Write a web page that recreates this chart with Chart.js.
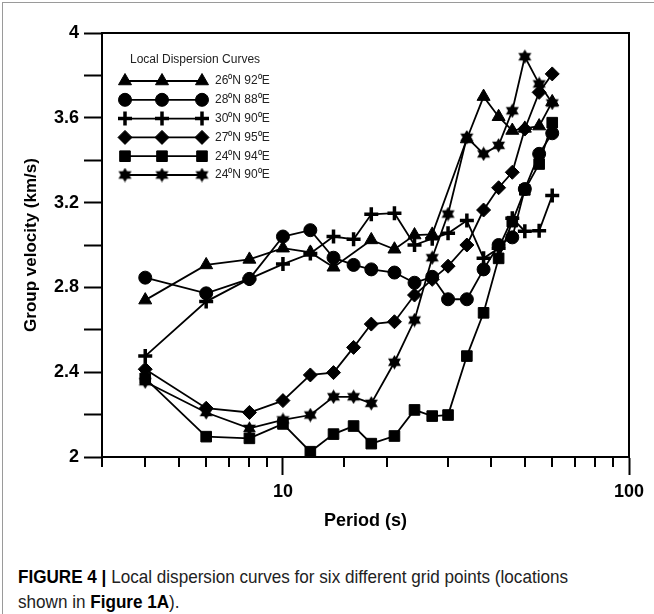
<!DOCTYPE html>
<html>
<head>
<meta charset="utf-8">
<script src="https://cdn.jsdelivr.net/npm/chart.js@4.4.0/dist/chart.umd.min.js"></script>
<style>
  html, body { margin: 0; padding: 0; background: #fff; }
  #wrap { position: relative; width: 654px; height: 614px; overflow: hidden; }
  #frame { position: absolute; left: 2px; top: 2px; width: 660px; height: 620px;
           border-left: 1px solid #9a9a9a; border-top: 1px solid #9a9a9a; }
  #chart { position: absolute; left: 0; top: 0; }
  #caption { position: absolute; left: 18px; top: 564px; font-family: "Liberation Sans Narrow", "Arial Narrow", "Liberation Sans", Arial, sans-serif;
             font-size: 19px; line-height: 25px; color: #222; white-space: nowrap;
             transform: scaleX(0.9); transform-origin: 0 0; }
  #caption b { color: #000; }
</style>
</head>
<body>
<div id="wrap">
  <div id="frame"></div>
  <canvas id="chart" width="654" height="545"></canvas>
  <div id="caption"><b>FIGURE 4 |</b> Local dispersion curves for six different grid points (locations<br>shown in <b>Figure 1A</b>).</div>
</div>
<script>
// periods (s) shared by all curves
const periods = [4, 6, 8, 10, 12, 14, 16, 18, 21, 24, 27, 30, 34, 38, 42, 46, 50, 55, 60];

// group velocity (km/s), null = no marker at that period
const v26N92E = [2.74, 2.906, 2.932, 2.985, 2.965, 2.895, null, 3.024, 2.98, 3.047, 3.05, null, 3.50, 3.70, 3.605, 3.54, 3.55, 3.561, 3.675];
const v28N88E = [2.846, 2.772, 2.84, 3.04, 3.07, 2.94, 2.906, 2.885, 2.87, 2.822, 2.85, 2.744, 2.744, 2.885, 3.0, 3.036, 3.264, 3.43, 3.527];
const v30N90E = [2.476, 2.733, 2.84, 2.91, 2.96, 3.04, 3.027, 3.145, 3.15, 3.0, 3.03, 3.055, 3.115, 2.937, 2.985, 3.126, 3.065, 3.067, 3.233];
const v27N95E = [2.414, 2.23, 2.21, 2.266, 2.387, 2.398, 2.517, 2.627, 2.638, 2.764, 2.838, 2.90, 3.0, 3.165, 3.27, 3.343, 3.547, 3.72, 3.807];
const v24N94E = [2.371, 2.096, 2.088, 2.156, 2.025, 2.108, 2.146, 2.063, 2.099, 2.222, 2.193, 2.198, 2.476, 2.68, 2.937, 3.11, 3.26, 3.382, 3.577];
const v24N90E = [2.355, 2.21, 2.135, 2.175, 2.198, 2.284, 2.284, 2.253, 2.447, 2.646, 2.94, 3.146, 3.508, 3.43, 3.47, 3.633, 3.888, 3.76, 3.67];

const seriesNames = ['26\u2070N 92\u2070E', '28\u2070N 88\u2070E', '30\u2070N 90\u2070E', '27\u2070N 95\u2070E', '24\u2070N 94\u2070E', '24\u2070N 90\u2070E'];
const yLabels = ['2', '2.4', '2.8', '3.2', '3.6', '4'];

// filled six point star, the library's own 'star' is only lines
function makeStar(size) {
    const c = document.createElement('canvas');
    c.width = size; c.height = size;
    const g = c.getContext('2d');
    const r = size / 2, cx = size / 2, cy = size / 2;
    g.fillStyle = '#000';
    for (let k = 0; k < 2; k++) {
        g.beginPath();
        for (let i = 0; i < 3; i++) {
            const a = -Math.PI / 2 + k * Math.PI + i * 2 * Math.PI / 3;
            const px = cx + r * Math.cos(a), py = cy + r * Math.sin(a) * 0.98;
            if (i === 0) g.moveTo(px, py); else g.lineTo(px, py);
        }
        g.closePath();
        g.fill();
    }
    return c;
}
const starImg = makeStar(15);

const styles = [
    { pointStyle: 'triangle', radius: 7.5, borderWidth: 1 },
    { pointStyle: 'circle', radius: 6.5, borderWidth: 1 },
    { pointStyle: 'cross', radius: 7, borderWidth: 3.5 },
    { pointStyle: 'rectRot', radius: 7, borderWidth: 1 },
    { pointStyle: 'rect', radius: 7.5, borderWidth: 1 },
    { pointStyle: starImg, radius: 7.5, borderWidth: 1 }
];
const allValues = [v26N92E, v28N88E, v30N90E, v27N95E, v24N94E, v24N90E];

function toPoints(vals) {
    const pts = [];
    periods.forEach((p, i) => { if (vals[i] !== null) pts.push({ x: p, y: vals[i] }); });
    return pts;
}

const datasets = allValues.map((vals, i) => ({
    label: seriesNames[i],
    data: toPoints(vals),
    borderColor: '#000',
    backgroundColor: '#000',
    borderWidth: 1.8,
    pointStyle: styles[i].pointStyle,
    pointRadius: styles[i].radius,
    pointBorderWidth: styles[i].borderWidth,
    pointBackgroundColor: '#000',
    pointBorderColor: '#000',
    tension: 0
}));

const isMajor = v => v === 10 || v === 100;

const framePlugin = {
    id: 'frameAndLegend',
    afterDraw(chart) {
        const ctx = chart.ctx;
        const a = chart.chartArea;
        const xs = chart.scales.x;
        ctx.save();
        // box round the plot
        ctx.strokeStyle = '#000';
        ctx.lineWidth = 2;
        ctx.strokeRect(a.left, a.top, a.right - a.left, a.bottom - a.top);
        // short minor ticks on the period axis
        xs.ticks.forEach(t => {
            if (isMajor(t.value)) return;
            const px = Math.round(xs.getPixelForValue(t.value));
            ctx.beginPath();
            ctx.moveTo(px, a.bottom);
            ctx.lineTo(px, a.bottom + 10);
            ctx.stroke();
        });

        // legend box in the corner
        ctx.fillStyle = '#222';
        ctx.font = '12px "Liberation Sans", Arial, sans-serif';
        ctx.textBaseline = 'middle';
        ctx.textAlign = 'left';
        ctx.fillText('Local Dispersion Curves', 130, 60);
        const mx = [125, 162, 202];
        chart.data.datasets.forEach((ds, i) => {
            const y = 81 + i * 18.8;
            ctx.strokeStyle = '#000';
            ctx.lineWidth = 1.8;
            ctx.beginPath();
            ctx.moveTo(mx[0], y);
            ctx.lineTo(mx[2], y);
            ctx.stroke();
            mx.forEach(x => {
                ctx.fillStyle = '#000';
                ctx.lineWidth = ds.pointBorderWidth;
                Chart.helpers.drawPoint(ctx, { pointStyle: ds.pointStyle, radius: ds.pointRadius, rotation: 0, borderWidth: ds.pointBorderWidth }, x, y);
            });
            ctx.fillStyle = '#222';
            ctx.fillText(ds.label, 215, y);
        });
        ctx.restore();
    }
};

new Chart(document.getElementById('chart').getContext('2d'), {
    type: 'line',
    data: { datasets: datasets },
    options: {
        responsive: false,
        animation: false,
        maintainAspectRatio: false,
        layout: { padding: { left: 21, top: 33, right: 25, bottom: 13 } },
        plugins: { legend: { display: false }, tooltip: { enabled: false } },
        scales: {
            x: {
                type: 'logarithmic',
                min: 3,
                max: 100,
                afterFit: s => { s.height = 75; },
                border: { display: true, color: '#000', width: 2 },
                grid: {
                    drawOnChartArea: false,
                    tickLength: 18,
                    tickWidth: 2,
                    tickColor: c => (c.tick && isMajor(c.tick.value)) ? '#000' : 'rgba(0,0,0,0)'
                },
                ticks: {
                    autoSkip: false,
                    maxRotation: 0,
                    padding: 6,
                    color: '#000',
                    font: { family: '"Liberation Sans", Arial, sans-serif', size: 18, weight: 'bold' },
                    callback: v => isMajor(v) ? String(v) : ''
                },
                title: {
                    display: true,
                    text: 'Period (s)',
                    color: '#000',
                    padding: { top: 2, bottom: 0 },
                    font: { family: '"Liberation Sans", Arial, sans-serif', size: 18, weight: 'bold' }
                }
            },
            y: {
                min: 2,
                max: 4,
                afterFit: s => { s.width = 81; },
                border: { display: true, color: '#000', width: 2 },
                grid: { drawOnChartArea: false, tickLength: 18, tickWidth: 2, tickColor: '#000' },
                ticks: {
                    stepSize: 0.2,
                    padding: 5,
                    color: '#000',
                    font: { family: '"Liberation Sans", Arial, sans-serif', size: 18, weight: 'bold' },
                    callback: v => {
                        const k = Math.round(v * 10);
                        return k % 4 === 0 ? yLabels[(k - 20) / 4] : '';
                    }
                },
                title: {
                    display: true,
                    text: 'Group velocity (km/s)',
                    color: '#000',
                    padding: { top: 0, bottom: 0 },
                    font: { family: '"Liberation Sans", Arial, sans-serif', size: 17, weight: 'bold' }
                }
            }
        }
    },
    plugins: [framePlugin]
});
</script>
</body>
</html>
